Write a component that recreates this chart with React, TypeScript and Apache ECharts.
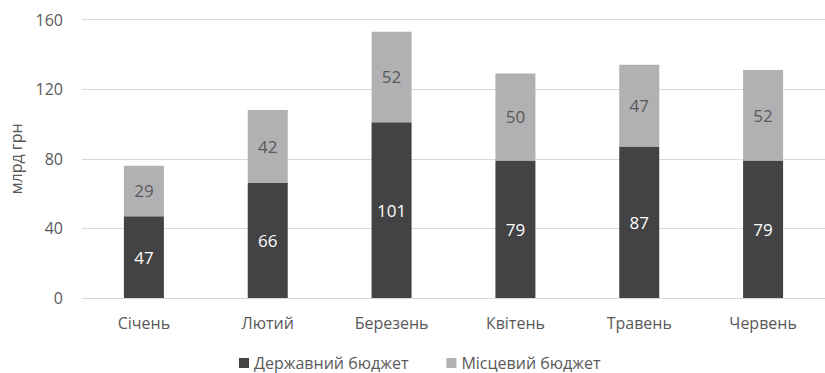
import React, { useEffect, useRef } from "react";
import * as echarts from "echarts";

const categories = ["Січень", "Лютий", "Березень", "Квітень", "Травень", "Червень"];
const stateBudget = [47, 66, 101, 79, 87, 79];
const localBudget = [29, 42, 52, 50, 47, 52];
const seriesNames = ["Державний бюджет", "Місцевий бюджет"];
const yAxisName = "млрд грн";

const FONT = "'Open Sans', 'Noto Sans', sans-serif";
const TEXT = "#595959";

export default function App() {
  const ref = useRef<HTMLDivElement>(null);
  useEffect(() => {
    if (!ref.current) return;
    const chart = echarts.init(ref.current, undefined, { renderer: "svg" });
    chart.setOption({
      animation: false,
      textStyle: { fontFamily: FONT },
      grid: { left: 80, width: 753, top: 19.5, height: 278.5, containLabel: false },
      legend: {
        top: 355,
        left: 239,
        padding: 0,
        itemWidth: 10,
        itemHeight: 10,
        itemGap: 38,
        itemTextGap: 4,
        icon: "rect",
        textStyle: { color: TEXT, fontSize: 16, fontFamily: FONT, lineHeight: 16 },
        data: seriesNames,
      },
      xAxis: {
        type: "category",
        data: categories,
        axisLine: { show: true, lineStyle: { color: "#d9d9d9" } },
        axisTick: { show: false },
        axisLabel: { color: TEXT, fontSize: 16, margin: 17, fontFamily: FONT },
      },
      yAxis: {
        type: "value",
        min: 0,
        max: 160,
        interval: 40,
        name: yAxisName,
        nameLocation: "middle",
        nameGap: 58,
        nameRotate: 90,
        nameTextStyle: { color: TEXT, fontSize: 16, fontFamily: FONT },
        axisLine: { show: false },
        axisTick: { show: false },
        axisLabel: { color: TEXT, fontSize: 16, margin: 19, fontFamily: FONT },
        splitLine: { lineStyle: { color: "#d9d9d9", width: 1 } },
      },
      series: [
        {
          name: seriesNames[0],
          type: "bar",
          stack: "total",
          data: stateBudget,
          barWidth: 40,
          itemStyle: { color: "#434345" },
          label: { show: true, position: "inside", color: "#ffffff", fontSize: 17, fontFamily: FONT },
        },
        {
          name: seriesNames[1],
          type: "bar",
          stack: "total",
          data: localBudget,
          barWidth: 40,
          itemStyle: { color: "#b1b1b3" },
          label: { show: true, position: "inside", color: TEXT, fontSize: 17, fontFamily: FONT },
        },
      ],
    });
    return () => chart.dispose();
  }, []);
  return (
    <div
      ref={ref}
      style={{ position: "fixed", left: 0, top: 0, width: 825, height: 373, background: "#fff" }}
    />
  );
}
